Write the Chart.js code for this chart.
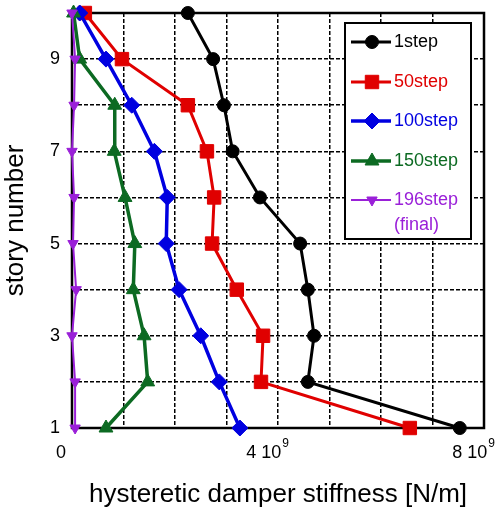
<!DOCTYPE html>
<html>
<head>
<meta charset="utf-8">
<script src="https://cdn.jsdelivr.net/npm/chart.js@4"></script>
<style>
  html, body { margin: 0; padding: 0; background: #fff; }
  #wrap { width: 497px; height: 510px; }
</style>
</head>
<body>
<div id="wrap"><canvas id="stiffChart" width="497" height="510"></canvas></div>
<script>
// story numbers (y) and damper stiffness per step (x, N/m)
const stories = [1, 2, 3, 4, 5, 6, 7, 8, 9, 10];
const step1 = [7.53e9, 4.58e9, 4.70e9, 4.58e9, 4.43e9, 3.65e9, 3.12e9, 2.95e9, 2.74e9, 2.25e9];
const step50 = [6.56e9, 3.67e9, 3.71e9, 3.20e9, 2.72e9, 2.76e9, 2.62e9, 2.25e9, 0.97e9, 0.25e9];
const step100 = [3.26e9, 2.86e9, 2.50e9, 2.08e9, 1.83e9, 1.85e9, 1.60e9, 1.16e9, 0.66e9, 0.15e9];
const step150 = [0.66e9, 1.47e9, 1.40e9, 1.19e9, 1.22e9, 1.03e9, 0.82e9, 0.83e9, 0.15e9, 0.03e9];
const step196 = [0.06e9, 0.06e9, 0.0, 0.08e9, 0.02e9, 0.04e9, 0.0, 0.04e9, 0.06e9, 0.0];
const legendLabels = [["1step"], ["50step"], ["100step"], ["150step"], ["196step", "(final)"]];
const xTickValues = [0, 4e9, 8e9];
const yTickValues = [1, 3, 5, 7, 9];

const FONT = 'Arial, "Liberation Sans", sans-serif';
Chart.defaults.font.family = FONT;
Chart.defaults.color = '#000';

const toPoints = (vals) => vals.map((v, i) => ({ x: v, y: stories[i] }));

const makeSet = (vals, color, style, radius, width, order, rotation) => ({
    data: toPoints(vals),
    borderColor: color,
    backgroundColor: color,
    pointStyle: style,
    pointRadius: radius,
    pointHoverRadius: radius,
    pointRotation: rotation || 0,
    pointBorderWidth: 1,
    borderWidth: width,
    showLine: true,
    tension: 0,
    clip: false,
    order: order
});

const datasets = [
    makeSet(step1, '#000000', 'circle', 6.5, 3, 5),
    makeSet(step50, '#e00000', 'rect', 9.5, 3, 4),
    makeSet(step100, '#0000e0', 'rectRot', 8, 3.5, 3),
    makeSet(step150, '#0c6a22', 'triangle', 8, 3.5, 2),
    makeSet(step196, '#9a20d8', 'triangle', 6, 2, 1, 180)
];

// frame around the plot area
const framePlugin = {
    id: 'frame',
    beforeDatasetsDraw(chart) {
        const { ctx, chartArea: a } = chart;
        ctx.save();
        ctx.strokeStyle = '#000';
        ctx.lineWidth = 2.5;
        ctx.setLineDash([]);
        ctx.strokeRect(a.left, a.top, a.right - a.left, a.bottom - a.top);
        ctx.restore();
    }
};

// x tick labels written "4 10^9" with a raised exponent
const xLabels = {
    id: 'xLabels',
    afterDraw(chart) {
        const { ctx } = chart;
        const xs = chart.scales.x;
        const y = chart.chartArea.bottom + 25;
        ctx.save();
        ctx.fillStyle = '#000';
        ctx.textBaseline = 'middle';
        xTickValues.forEach((v) => {
            const px = xs.getPixelForValue(v) - 11;
            if (v === 0) {
                ctx.font = '18px ' + FONT;
                ctx.textAlign = 'center';
                ctx.fillText('0', px, y);
                return;
            }
            ctx.textAlign = 'left';
            const base = (v / 1e9) + ' 10';
            ctx.font = '18px ' + FONT;
            const wb = ctx.measureText(base).width;
            ctx.font = '12px ' + FONT;
            const we = ctx.measureText('9').width;
            const x0 = px - (wb + we) / 2;
            ctx.font = '18px ' + FONT;
            ctx.fillText(base, x0, y);
            ctx.font = '12px ' + FONT;
            ctx.fillText('9', x0 + wb + 1, y - 9);
        });
        ctx.restore();
    }
};

// boxed legend inside the plot, top right
const boxLegend = {
    id: 'boxLegend',
    afterDatasetsDraw(chart) {
        const { ctx } = chart;
        const bx = 345, by = 23, bw = 126, bh = 216;
        const rows = [42, 82, 121, 161, 200];
        ctx.save();
        ctx.fillStyle = '#fff';
        ctx.fillRect(bx, by, bw, bh);
        ctx.strokeStyle = '#000';
        ctx.lineWidth = 2;
        ctx.strokeRect(bx, by, bw, bh);
        chart.data.datasets.forEach((ds, i) => {
            const y = rows[i];
            ctx.strokeStyle = ds.borderColor;
            ctx.lineWidth = ds.borderWidth;
            ctx.beginPath();
            ctx.moveTo(351, y);
            ctx.lineTo(391, y);
            ctx.stroke();
            ctx.fillStyle = ds.backgroundColor;
            ctx.lineWidth = 1;
            Chart.helpers.drawPoint(ctx, {
                pointStyle: ds.pointStyle,
                radius: ds.pointRadius,
                rotation: ds.pointRotation,
                borderWidth: 1
            }, 372, y);
            ctx.fillStyle = ds.borderColor;
            ctx.font = '18px ' + FONT;
            ctx.textBaseline = 'middle';
            ctx.textAlign = 'left';
            legendLabels[i].forEach((line, k) => {
                ctx.fillText(line, 394, y + k * 25);
            });
        });
        ctx.restore();
    }
};

const ctx = document.getElementById('stiffChart');
new Chart(ctx, {
    type: 'line',
    data: { datasets: datasets },
    plugins: [framePlugin, boxLegend, xLabels],
    options: {
        responsive: false,
        animation: false,
        layout: { padding: { top: 13, right: 13, left: 0, bottom: 0 } },
        plugins: {
            legend: { display: false },
            tooltip: { enabled: false }
        },
        scales: {
            x: {
                type: 'linear',
                min: 0,
                max: 8e9,
                afterFit: (scale) => {
                    scale.height = 82;
                    scale.paddingLeft = 0;
                    scale.paddingRight = 0;
                },
                afterBuildTicks: (scale) => {
                    const t = [];
                    for (let v = 0; v <= 8; v++) t.push({ value: v * 1e9 });
                    scale.ticks = t;
                },
                ticks: { display: false },
                grid: { color: '#000', lineWidth: 1.5, drawTicks: false },
                border: { display: false, dash: [4, 2] },
                title: {
                    display: true,
                    text: 'hysteretic damper stiffness [N/m]',
                    font: { size: 26 },
                    padding: 0
                }
            },
            y: {
                type: 'linear',
                min: 1,
                max: 10,
                afterFit: (scale) => {
                    scale.width = 72;
                    scale.paddingTop = 0;
                    scale.paddingBottom = 0;
                },
                afterBuildTicks: (scale) => {
                    scale.ticks = stories.map((s) => ({ value: s }));
                },
                ticks: {
                    autoSkip: false,
                    padding: 12,
                    font: { size: 18 },
                    callback: (v) => (yTickValues.includes(v) ? String(v) : '')
                },
                grid: { color: '#000', lineWidth: 1.5, drawTicks: false },
                border: { display: false, dash: [4, 2] },
                title: {
                    display: true,
                    text: 'story number',
                    font: { size: 26 },
                    padding: 0
                }
            }
        }
    }
});
</script>
</body>
</html>
